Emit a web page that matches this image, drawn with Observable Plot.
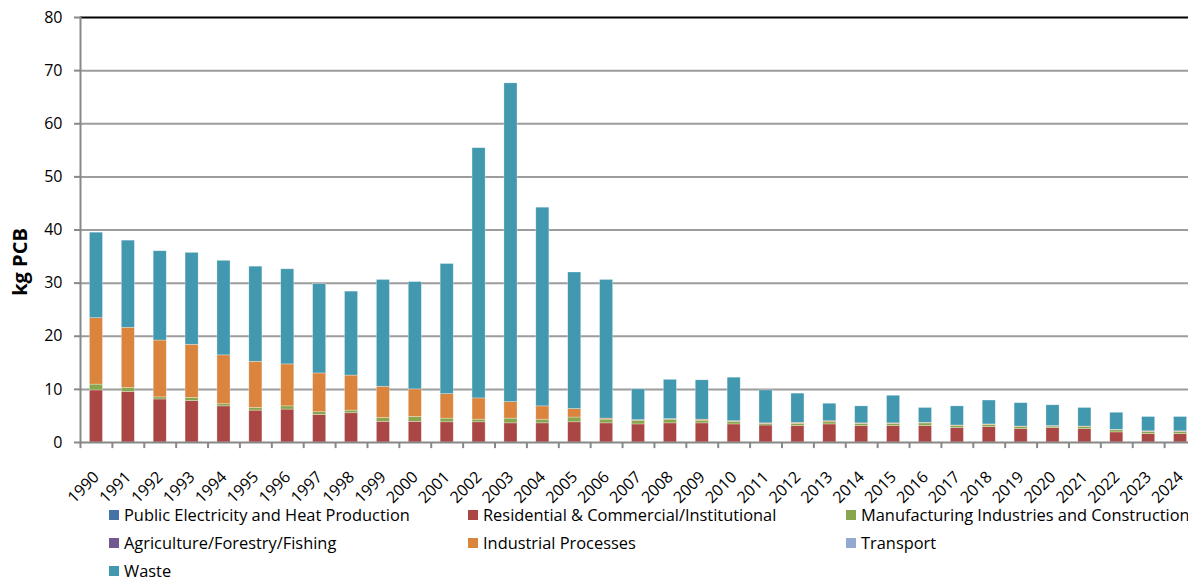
<!DOCTYPE html>
<html>
<head>
<meta charset="utf-8">
<script src="https://cdn.jsdelivr.net/npm/d3@7"></script>
<script src="https://cdn.jsdelivr.net/npm/@observablehq/plot@0.6"></script>
<style>
  html, body { margin: 0; padding: 0; background: #fff; overflow: hidden; width: 1188px; height: 581px; }
  body { position: relative; }
  #chart svg { display: block; }
  .legend { position: absolute; left: 0; top: 500px; width: 1188px; height: 81px; font-family: "Open Sans", sans-serif; font-size: 16.4px; line-height: 18px; color: #000; }
  .item { position: absolute; display: flex; align-items: center; white-space: nowrap; height: 18px; }
  .sw { width: 10px; height: 10px; margin-right: 5px; flex: none; }
</style>
</head>
<body>
<div id="chart"></div>
<script>
const years = ["1990","1991","1992","1993","1994","1995","1996","1997","1998","1999",
  "2000","2001","2002","2003","2004","2005","2006","2007","2008","2009",
  "2010","2011","2012","2013","2014","2015","2016","2017","2018","2019",
  "2020","2021","2022","2023","2024"];

const seriesNames = [
  "Public Electricity and Heat Production",
  "Residential & Commercial/Institutional",
  "Manufacturing Industries and Construction",
  "Agriculture/Forestry/Fishing",
  "Industrial Processes",
  "Transport",
  "Waste"
];
const seriesColors = ["#4572A7", "#AA4643", "#89A54E", "#71588F", "#DB843D", "#93A9CF", "#4198AF"];

const publicElectricity = [0,0,0,0,0,0,0,0,0,0, 0,0,0,0,0,0,0,0,0,0, 0,0,0,0,0,0,0,0,0,0, 0,0,0,0,0];
const residential = [9.8,9.5,8.1,7.8,6.8,6.0,6.2,5.2,5.5,3.9, 3.9,3.8,3.8,3.6,3.6,3.8,3.6,3.4,3.6,3.6,
  3.4,3.2,3.1,3.4,3.1,3.1,3.1,2.7,2.9,2.5, 2.7,2.5,1.9,1.6,1.6];
const manufacturing = [1.1,0.8,0.4,0.6,0.4,0.5,0.6,0.5,0.5,0.7, 0.9,0.7,0.5,0.9,0.7,0.9,0.7,0.7,0.7,0.5,
  0.5,0.3,0.4,0.4,0.4,0.4,0.5,0.4,0.4,0.4, 0.3,0.4,0.4,0.4,0.4];
const agriculture = [0,0,0,0,0,0,0,0,0,0, 0,0,0,0,0,0,0,0,0,0, 0,0,0,0,0,0,0,0,0,0, 0,0,0,0,0];
const industrial = [12.5,11.3,10.7,10.0,9.2,8.7,7.9,7.3,6.6,5.9, 5.2,4.6,4.0,3.1,2.5,1.6,0.2,0.1,0.1,0.2,
  0.1,0.1,0.2,0.2,0.1,0.1,0.1,0.1,0.1,0.1, 0.1,0.1,0.1,0.1,0.1];
const transport = [0,0,0,0,0,0,0,0,0,0, 0,0,0,0,0,0,0,0,0,0, 0,0,0,0,0,0,0,0,0,0, 0,0,0,0,0];
const waste = [16.1,16.4,16.8,17.3,17.8,17.9,17.9,16.8,15.8,20.1, 20.2,24.5,47.1,60.0,37.4,25.7,26.1,5.8,7.4,7.4,
  8.2,6.2,5.5,3.3,3.2,5.2,2.8,3.6,4.5,4.4, 3.9,3.5,3.2,2.7,2.7];

const yTicks = [0, 10, 20, 30, 40, 50, 60, 70, 80];
const gridValues = [10, 20, 30, 40, 50, 60, 70];

const seriesValues = [publicElectricity, residential, manufacturing, agriculture, industrial, transport, waste];
const rows = seriesNames.flatMap((name, s) =>
  seriesValues[s].map((v, i) => ({ year: years[i], series: name, value: v })));

const W = 1188, H = 520, mL = 80, mR = -8;
const step = (W - mR - mL) / years.length;

const chart = Plot.plot({
  width: W, height: H,
  marginLeft: mL, marginRight: mR, marginTop: 17, marginBottom: 78,
  style: { fontFamily: "'Open Sans', sans-serif", fontSize: "16px", color: "#000", background: "transparent" },
  x: { domain: years, paddingInner: 0.59, paddingOuter: 0.295, axis: null },
  y: { domain: [0, 80], axis: null },
  color: { domain: seriesNames, range: seriesColors },
  marks: [
    Plot.ruleY(gridValues, { stroke: "#9c9c9c", strokeWidth: 2 }),
    Plot.ruleY([80], { stroke: "#000", strokeWidth: 1.8 }),
    Plot.barY(rows, { x: "year", y: "value", fill: "series", stroke: "#fff", strokeWidth: 0.6, strokeOpacity: 0.5 }),
    Plot.frame({ anchor: "left", stroke: "#888", strokeWidth: 2 }),
    Plot.ruleY([0], { stroke: "#888", strokeWidth: 2 }),
    Plot.ruleX(years, { x: d => d, y1: 0, y2: -1.15, dx: -step / 2, stroke: "#888", strokeWidth: 2 }),
    Plot.axisY({ ticks: yTicks, tickSize: 6, tickPadding: 12, stroke: "#888", strokeWidth: 2, label: null, fontSize: 16 }),
    Plot.axisX({ ticks: years, tickSize: 0, tickPadding: 27, tickRotate: -45, dx: 0, dy: 5, label: null, fontSize: 16 }),
    Plot.text(["kg PCB"], { frameAnchor: "left", textAnchor: "middle", rotate: -90, dx: -60, dy: 32, fontWeight: "bold", fontSize: 20, text: d => d })
  ]
});
document.getElementById("chart").appendChild(chart);

// Legend
const legend = document.createElement("div");
legend.className = "legend";
const colX = [109, 468, 846];
const rowY = [6, 34, 62];
seriesNames.forEach((name, i) => {
  const item = document.createElement("div");
  item.className = "item";
  item.style.left = colX[i % 3] + "px";
  item.style.top = rowY[Math.floor(i / 3)] + "px";
  const sw = document.createElement("span");
  sw.className = "sw";
  sw.style.background = seriesColors[i];
  const t = document.createElement("span");
  t.textContent = name;
  item.appendChild(sw);
  item.appendChild(t);
  legend.appendChild(item);
});
document.body.appendChild(legend);
</script>
</body>
</html>
